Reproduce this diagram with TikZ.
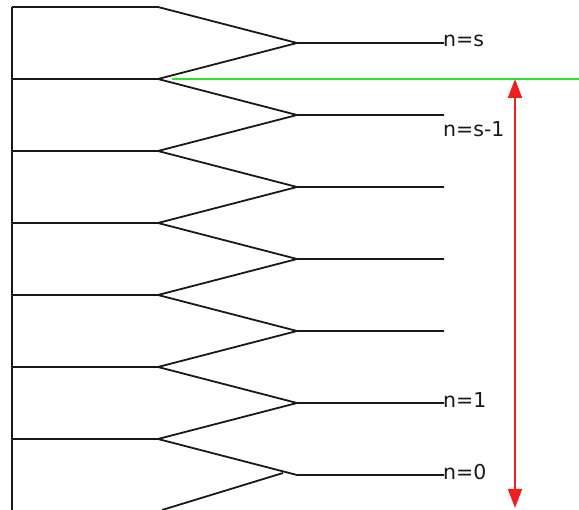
\documentclass[tikz,border=0pt]{standalone}
\usepackage{fontspec}
\setsansfont{DejaVu Sans}
\usetikzlibrary{arrows.meta}
\definecolor{lineCol}{RGB}{25, 25, 25}
\definecolor{levelCol}{RGB}{40, 230, 40}
\definecolor{spanCol}{RGB}{240, 30, 30}

\begin{document}
\begin{tikzpicture}[
    font=\sffamily\fontsize{20.5}{24}\selectfont,
    x=1pt, y=-1pt,
    treeLine/.style={line width=1.8pt, draw=lineCol},
    levelLine/.style={line width=2pt, draw=levelCol},
    spanArrow/.style={{Triangle[length=19pt, width=14pt]}-{Triangle[length=19pt, width=14pt]},
        line width=1.8pt, draw=spanCol, fill=spanCol},
    levelLabel/.style={anchor=base west, inner sep=0pt, text=lineCol}
]
    \useasboundingbox (0,0) rectangle (579,510);

    % ---------------- trunk and branches ----------------
    \coordinate (trunkTop) at (12,7);
    \coordinate (trunkBot) at (12,510);
    \draw[treeLine] (trunkTop) -- (trunkBot);

    \foreach \k in {0,...,6} {
        \coordinate (L\k) at (12, 7+72*\k);
        \coordinate (V\k) at (158, 7+72*\k);
        \coordinate (M\k) at (297, 43+72*\k);
        \coordinate (R\k) at (444, 43+72*\k);
        \draw[treeLine] (L\k) -- (V\k) -- (M\k) -- (R\k);
    }
    \foreach \k/\j in {0/1, 1/2, 2/3, 3/4, 4/5, 5/6} {
        \draw[treeLine] (V\j) -- (M\k);
    }

    % last branch, cut by the lower edge
    \coordinate (cutEnd) at (162,510);
    \coordinate (cutTip) at (283,473);
    \draw[treeLine] (cutEnd) -- (cutTip);

    % ---------------- level line and span ----------------
    \coordinate (levelStart) at (172,79);
    \coordinate (levelEnd) at (579,79);
    \draw[levelLine] (levelStart) -- (levelEnd);

    \coordinate (spanTop) at (515,79);
    \coordinate (spanBot) at (515,508);
    \draw[spanArrow] (spanTop) -- (spanBot);

    % ---------------- labels ----------------
    \node[levelLabel] (labS) at (443,47) {n=s};
    \node[levelLabel] (labSm) at (443,137) {n=s-1};
    \node[levelLabel] (labOne) at (443,408) {n=1};
    \node[levelLabel] (labZero) at (443,480) {n=0};

\end{tikzpicture}
\end{document}
